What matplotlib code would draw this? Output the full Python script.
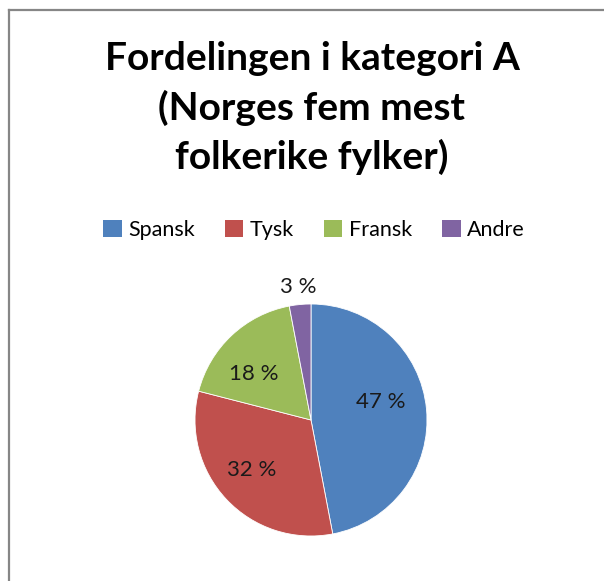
import numpy as np
import matplotlib.pyplot as plt
from matplotlib.lines import Line2D
from matplotlib.patches import Patch

plt.rcParams['font.family'] = ['Lato', 'DejaVu Sans']

title_lines = ["Fordelingen i kategori A", "(Norges fem mest", "folkerike fylker)"]
categories = ["Spansk", "Tysk", "Fransk", "Andre"]
shares = [47, 32, 18, 3]
colors = ["#4F81BD", "#C0504D", "#9BBB59", "#8064A2"]

W, H = 604, 581
fig = plt.figure(figsize=(W / 100, H / 100), dpi=100)

# grey frame (only top and left edges are visible in the crop)
fig.add_artist(Line2D([8.5 / W, 8.5 / W], [0, 1 - 10 / H], color="#868686", lw=1.6,
                      transform=fig.transFigure))
fig.add_artist(Line2D([8.5 / W, 1], [1 - 10 / H, 1 - 10 / H], color="#868686", lw=1.6,
                      transform=fig.transFigure))

# title, one line at a time
for i, line in enumerate(title_lines):
    fig.text(312 / W, 1 - (70 + 49.5 * i) / H, line, ha="center", va="baseline",
             fontsize=28, fontweight="bold", color="black")

# pie
cx, cy, r = 311, 420, 116
ax = fig.add_axes([(cx - r) / W, (H - cy - r) / H, 2 * r / W, 2 * r / H])
wedges, texts, autotexts = ax.pie(shares, colors=colors, startangle=90, counterclock=False,
                                  autopct=lambda p: "{:.0f} %".format(p), pctdistance=0.64,
                                  wedgeprops=dict(edgecolor="white", linewidth=0.6),
                                  textprops=dict(fontsize=16, color="#1a1a1a"))
ax.set_xlim(-1, 1)
ax.set_ylim(-1, 1)
ax.set_aspect("equal")

# label placement similar to Excel's best fit (distance from centre, angle nudge)
label_dist = [0.62, 0.67, 0.63, 1.15]
label_nudge = [9, -3, 8, 0]
for w, t, d, n in zip(wedges, autotexts, label_dist, label_nudge):
    theta = np.deg2rad((w.theta1 + w.theta2) / 2 + n)
    t.set_position((d * np.cos(theta), d * np.sin(theta)))
    t.set_clip_on(False)

# legend
handles = [Patch(facecolor=c, edgecolor="none") for c in colors]
fig.legend(handles, categories, loc="center", bbox_to_anchor=(314 / W, 1 - 230 / H), ncol=4,
           frameon=False, fontsize=15.5, handlelength=0.85, handleheight=0.85,
           handletextpad=0.3, columnspacing=1.4, borderpad=0)

fig.savefig("out.png", dpi=100, facecolor="white")
